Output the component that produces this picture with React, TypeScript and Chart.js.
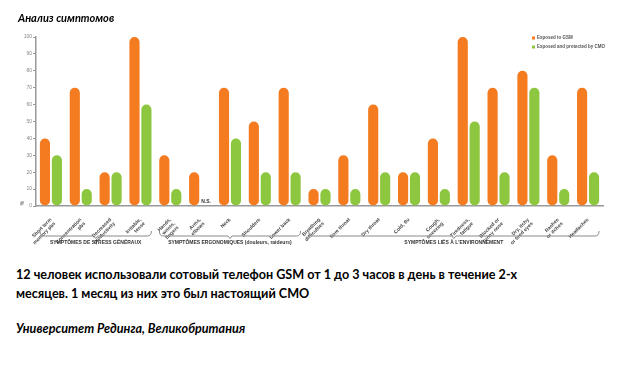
import React, { useEffect, useRef } from "react";
import { Chart, registerables } from "chart.js";

Chart.register(...registerables);

const categories: string[][] = [
  ["Short term", "memory pbs"],
  ["Concentration", "pbs"],
  ["Decreased", "productivity"],
  ["Irritable,", "tense"],
  ["Hands,", "wrists,", "fingers"],
  ["Arms,", "elbows"],
  ["Neck"],
  ["Shoulders"],
  ["Lower back"],
  ["Breathing", "difficulties"],
  ["Sore throat"],
  ["Dry throat"],
  ["Cold, flu"],
  ["Cough,", "sneezing"],
  ["Tiredness,", "fatigue"],
  ["Blocked or", "runny nose"],
  ["Dry, itchy", "or tired eyes"],
  ["Rashes", "or itches"],
  ["Headaches"],
];

const exposedGSM = [40, 70, 20, 100, 30, 20, 70, 50, 70, 10, 30, 60, 20, 40, 100, 70, 80, 30, 70];
const protectedCMO = [30, 10, 20, 60, 10, null, 40, 20, 20, 10, 10, 20, 20, 10, 50, 20, 70, 10, 20];

const seriesNames = ["Exposed to GSM", "Exposed and protected by CMO"];
const seriesColors = ["#F47B20", "#8DC63F"];

const groupNames = [
  "SYMPTÔMES DE STRESS GÉNÉRAUX",
  "SYMPTÔMES ERGONOMIQUES (douleurs, raideurs)",
  "SYMPTÔMES LIÉS À L'ENVIRONNEMENT",
];
const groupSizes = [4, 5, 10];

const notSignificantLabel = "N.S.";
const yUnit = "%";

const extrasPlugin = {
  id: "extras",
  afterDraw(chart: any) {
    const ctx = chart.ctx;
    const xs = chart.scales.x;
    const ys = chart.scales.y;
    const area = chart.chartArea;
    ctx.save();

    // "%" unit near the origin
    ctx.save();
    ctx.translate(area.left - 13, ys.getPixelForValue(0) - 3);
    ctx.rotate(-Math.PI / 2);
    ctx.font = "bold 5px 'Liberation Sans'";
    ctx.fillStyle = "#777";
    ctx.textAlign = "center";
    ctx.textBaseline = "middle";
    ctx.fillText(yUnit, 0, 0);
    ctx.restore();

    // N.S. where there is no value
    const meta = chart.getDatasetMeta(1);
    protectedCMO.forEach((v, i) => {
      if (v === null) {
        const el = meta.data[i];
        const x = el && isFinite(el.x) ? el.x : xs.getPixelForValue(i) + 6;
        ctx.font = "bold 5px 'Liberation Sans'";
        ctx.fillStyle = "#333";
        ctx.textAlign = "center";
        ctx.textBaseline = "bottom";
        ctx.fillText(notSignificantLabel, x, ys.getPixelForValue(0) - 2);
      }
    });

    // group brackets
    const step = (area.right - area.left) / categories.length;
    let start = 0;
    groupSizes.forEach((n, g) => {
      const x1 = area.left + start * step + 4;
      const x2 = area.left + (start + n) * step - 4;
      const yTop = 231;
      const yLine = 236;
      const r = 4;
      const cx = (x1 + x2) / 2;
      ctx.strokeStyle = "#8a8a8a";
      ctx.lineWidth = 1;
      ctx.beginPath();
      ctx.moveTo(x1, yTop);
      ctx.quadraticCurveTo(x1, yLine, x1 + r, yLine);
      ctx.lineTo(cx - 2, yLine);
      ctx.lineTo(cx, yLine + 2.5);
      ctx.lineTo(cx + 2, yLine);
      ctx.lineTo(x2 - r, yLine);
      ctx.quadraticCurveTo(x2, yLine, x2, yTop);
      ctx.stroke();
      ctx.font = "bold 5px 'Liberation Sans'";
      ctx.fillStyle = "#333";
      ctx.textAlign = "center";
      ctx.textBaseline = "middle";
      ctx.fillText(groupNames[g], cx, 243);
      start += n;
    });

    // legend
    const lx = 532;
    const ly = [38, 47];
    seriesNames.forEach((name, i) => {
      ctx.fillStyle = seriesColors[i];
      ctx.fillRect(lx, ly[i] - 1.5, 3, 3);
      ctx.font = "bold 4.5px 'Liberation Sans'";
      ctx.fillStyle = "#555";
      ctx.textAlign = "left";
      ctx.textBaseline = "middle";
      ctx.fillText(name, lx + 5, ly[i]);
    });

    ctx.restore();
  },
};

function BarChart() {
  const ref = useRef<HTMLCanvasElement | null>(null);
  useEffect(() => {
    if (!ref.current) return;
    const chart = new Chart(ref.current, {
      type: "bar",
      data: {
        labels: categories,
        datasets: [
          {
            label: seriesNames[0],
            data: exposedGSM,
            backgroundColor: seriesColors[0],
            borderRadius: 10,
            borderSkipped: false,
            categoryPercentage: 0.8,
            barPercentage: 0.85,
          },
          {
            label: seriesNames[1],
            data: protectedCMO as any,
            backgroundColor: seriesColors[1],
            borderRadius: 10,
            borderSkipped: false,
            categoryPercentage: 0.8,
            barPercentage: 0.85,
          },
        ],
      },
      options: {
        animation: false,
        responsive: false,
        devicePixelRatio: 1,
        layout: { padding: { top: 37, left: 0, right: 15, bottom: 0 } },
        plugins: {
          legend: { display: false },
          tooltip: { enabled: false },
        },
        scales: {
          x: {
            grid: { display: false },
            border: { display: true, color: "#999", width: 1.5 },
            ticks: {
              autoSkip: false,
              minRotation: 45,
              maxRotation: 45,
              padding: 3,
              color: "#444",
              font: { family: "'Liberation Sans'", size: 5, weight: "bold", lineHeight: 1.1 },
            },
            afterFit: (s: any) => {
              s.height = 49;
            },
          },
          y: {
            min: 0,
            max: 100,
            ticks: {
              stepSize: 10,
              padding: 1,
              color: "#888",
              font: { family: "'Liberation Sans'", size: 5 },
            },
            grid: {
              display: true,
              drawOnChartArea: false,
              drawTicks: true,
              tickLength: 3,
              color: "#999",
            },
            border: { display: true, color: "#999", width: 1.5 },
            afterFit: (s: any) => {
              s.width = 36;
            },
          },
        },
      },
      plugins: [extrasPlugin],
    });
    return () => chart.destroy();
  }, []);
  return <canvas ref={ref} width={618} height={255} style={{ display: "block" }} />;
}

export default function App() {
  const font = "Lato, 'Open Sans', sans-serif";
  return (
    <div style={{ position: "absolute", left: 0, top: 0, width: 618, height: 368, background: "#fff", overflow: "hidden" }}>
      <div style={{ position: "absolute", left: 0, top: 0 }}>
        <BarChart />
      </div>
      <div
        style={{
          position: "absolute",
          left: 18,
          top: 10,
          fontFamily: font,
          fontWeight: 700,
          fontStyle: "italic",
          fontSize: 11,
          lineHeight: "16px",
          color: "#000",
        }}
      >
        Анализ симптомов
      </div>
      <div
        style={{
          position: "absolute",
          left: 16,
          top: 265,
          fontFamily: font,
          fontWeight: 700,
          fontSize: 12.6,
          lineHeight: "19px",
          color: "#000",
          whiteSpace: "nowrap",
        }}
      >
        12 человек использовали сотовый телефон GSM от 1 до 3 часов в день в течение 2-х
        <br />
        месяцев. 1 месяц из них это был настоящий СМО
      </div>
      <div
        style={{
          position: "absolute",
          left: 16,
          top: 319,
          fontFamily: font,
          fontWeight: 700,
          fontStyle: "italic",
          fontSize: 12.6,
          lineHeight: "19px",
          color: "#000",
          whiteSpace: "nowrap",
        }}
      >
        Университет Рединга, Великобритания
      </div>
    </div>
  );
}
